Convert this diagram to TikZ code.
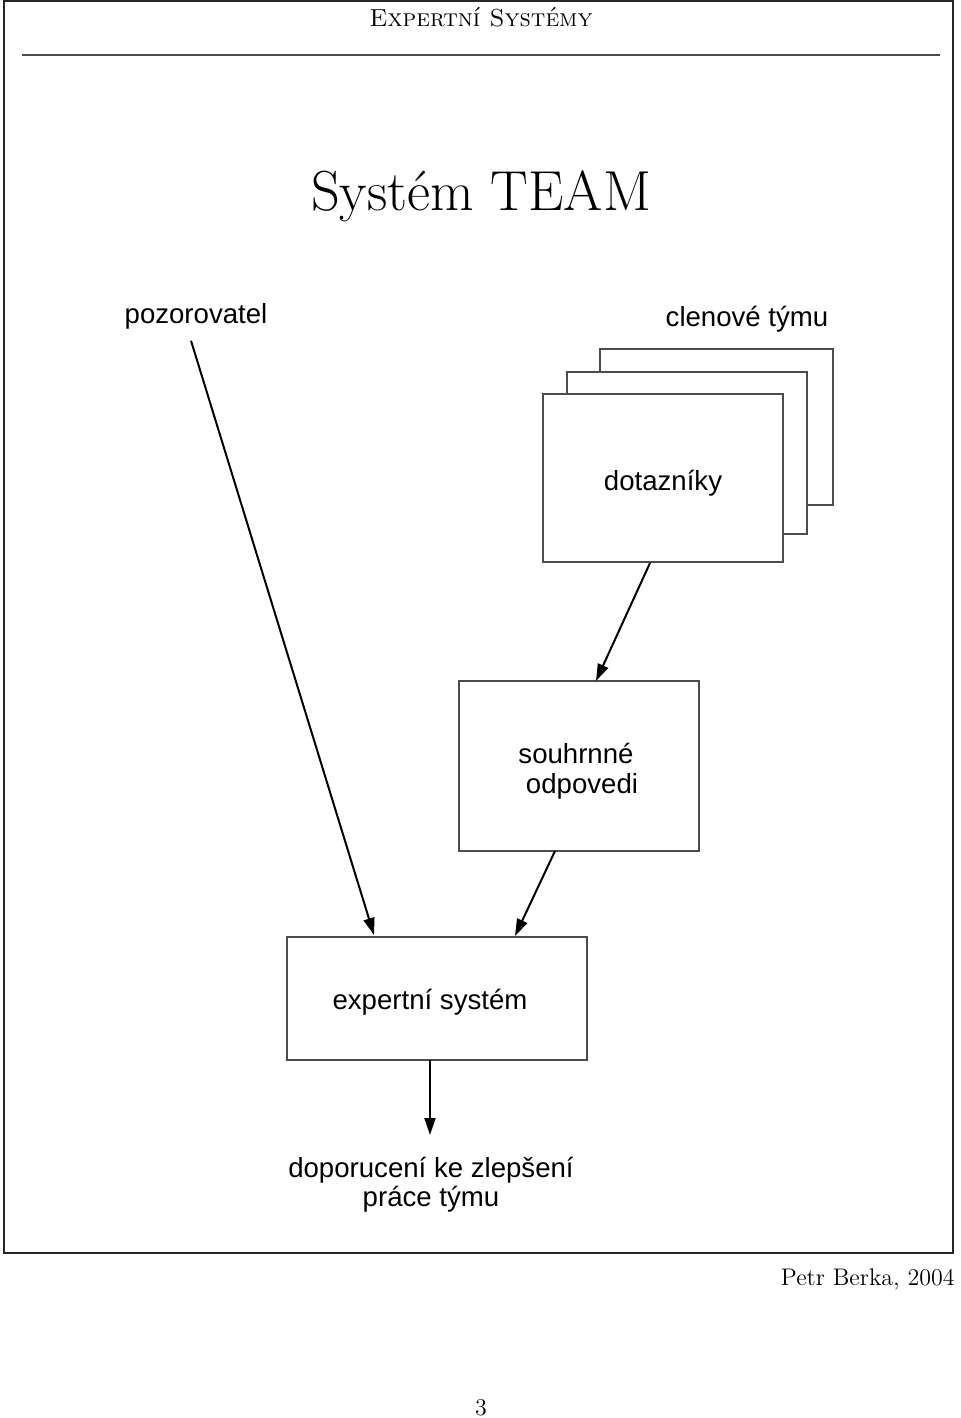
\documentclass[tikz,border=0pt]{standalone}
\usepackage{fontspec}
\newfontfamily\arial{Liberation Sans}
\usetikzlibrary{arrows.meta,calc}
\definecolor{boxgray}{gray}{0.3}
\tikzset{
  stackbox/.style={draw=boxgray,line width=0.75pt,fill=white,rectangle,inner sep=0pt,outer sep=0pt},
  arialtext/.style={font=\arial\fontsize{13.8}{14.5}\selectfont,inner sep=0pt,outer sep=0pt},
  conn/.style={line width=1pt,-{Triangle[length=8.5pt,width=5.5pt]}},
}
\begin{document}
\begin{tikzpicture}[x=0.5pt,y=-0.5pt]
\useasboundingbox (0,0) rectangle (960,1418);
% frame
\draw[line width=1.2pt,black!85] (4,1) rectangle (953,1253);
\node[anchor=base,inner sep=0pt,font=\fontsize{12.3}{14}\selectfont] (hdr) at (481,27) {\textsc{Expertní Systémy}};
\draw[line width=0.75pt,boxgray] (22,55) -- (940,55);
\node[anchor=base,inner sep=0pt,font=\fontsize{28.2}{32}\selectfont] (title) at (481,210) {Systém TEAM};
% labels
\node[arialtext,anchor=base] (poz) at (196,323) {pozorovatel};
\node[arialtext,anchor=base] (clen) at (747,326) {clenové týmu};
% stacked boxes
\node[stackbox,minimum width=116.5pt,minimum height=78pt] (back) at (716.5,427) {};
\node[stackbox,minimum width=120pt,minimum height=81pt] (mid) at (687,453) {};
\node[stackbox,minimum width=120pt,minimum height=84pt,font=\arial\fontsize{13.8}{14.5}\selectfont] (front) at (663,478) {\raisebox{-6pt}[0pt][0pt]{dotazníky}};
% souhrnne
\node[stackbox,minimum width=120pt,minimum height=85pt,font=\arial\fontsize{13.8}{15}\selectfont] (souhrn) at (579,766) {\raisebox{1.5pt}[0pt][0pt]{\begin{tabular}[t]{@{}c@{}}souhrnné\hspace*{3pt}\\\hspace*{3pt}odpovedi\end{tabular}}};
% expert
\node[stackbox,minimum width=150pt,minimum height=61.5pt,font=\arial\fontsize{13.8}{14.5}\selectfont] (expert) at (437,998.5) {\raisebox{-5.25pt}[0pt][0pt]{expertní systém}\hspace*{7pt}};
% result
\node[arialtext,align=center,font=\arial\fontsize{13.8}{14.5}\selectfont,anchor=north] (dopo) at (431,1157) {doporucení ke zlepšení\\práce týmu};
% footer
\node[anchor=base east,inner sep=0pt,font=\fontsize{12}{14}\selectfont] (auth) at (955,1285) {Petr Berka, 2004};
\node[anchor=base,inner sep=0pt,font=\fontsize{12}{14}\selectfont] (pg) at (481,1415) {3};
% connectors
\draw[conn] ($(poz.south)+(-5,12)$) -- ($(expert.north)+(-63,-2)$);
\draw[conn] ($(front.south)+(-13,1)$) -- ($(souhrn.north)+(17,0)$);
\draw[conn] ($(souhrn.south)+(-24,0)$) -- ($(expert.north)+(78,-1)$);
\draw[conn] ($(expert.south)+(-7,0)$) -- ($(dopo.north)+(-1,-22)$);
\end{tikzpicture}
\end{document}
